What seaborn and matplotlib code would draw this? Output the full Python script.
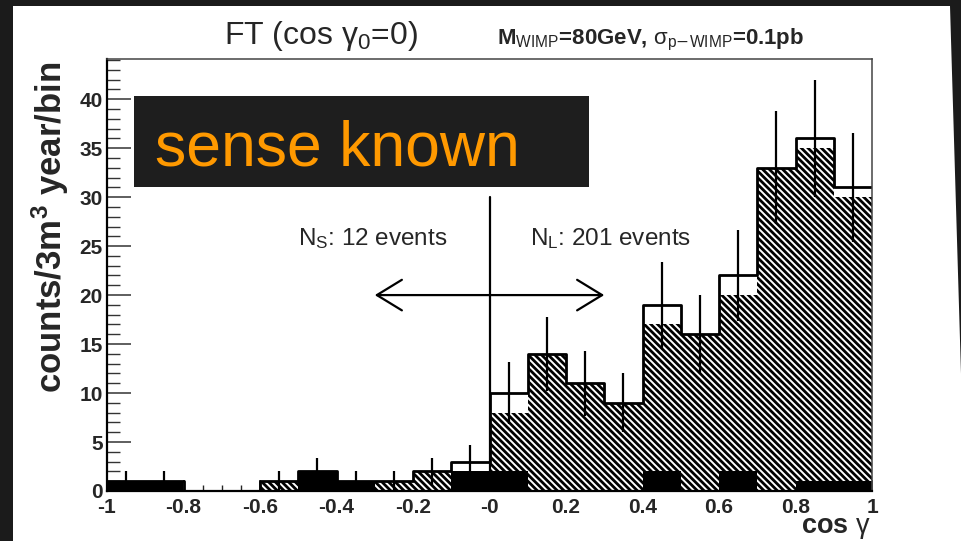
import numpy as np
import pandas as pd
import matplotlib
matplotlib.use("Agg")
import matplotlib.pyplot as plt
from matplotlib.patches import Rectangle, Polygon
from matplotlib.ticker import MultipleLocator, FixedLocator, FixedFormatter
import seaborn as sns

# ---- data: counts per 0.1 bin of cos(gamma), from -1 to 1 ----
bin_edges = [round(-1.0 + 0.1 * i, 2) for i in range(21)]
total_counts = [1, 1, 0, 0, 1, 2, 1, 1, 2, 3, 10, 14, 11, 9, 19, 16, 22, 33, 36, 31]
background_counts = [1, 1, 0, 0, 0, 2, 1, 0, 0, 2, 2, 0, 0, 0, 2, 0, 2, 0, 1, 1]
signal_counts = [0, 0, 0, 0, 1, 0, 0, 1, 2, 1, 8, 14, 11, 9, 17, 16, 20, 33, 35, 30]

x_tick_values = [-1.0, -0.8, -0.6, -0.4, -0.2, 0.0, 0.2, 0.4, 0.6, 0.8, 1.0]
x_tick_labels = ["-1", "-0.8", "-0.6", "-0.4", "-0.2", "-0", "0.2", "0.4", "0.6", "0.8", "1"]
y_tick_values = [0, 5, 10, 15, 20, 25, 30, 35, 40]

cut_value = 0.0          # cos(gamma_0)
cut_line_top = 30
arrow_level = 20
arrow_half_span = 0.3

edges = np.array(bin_edges)
bin_centers = (edges[:-1] + edges[1:]) / 2
df = pd.DataFrame({
    "cos_gamma": bin_centers,
    "total": total_counts,
    "signal": signal_counts,
    "background": background_counts,
})
n_short = int(df.loc[df.cos_gamma < cut_value, "total"].sum())
n_long = int(df.loc[df.cos_gamma > cut_value, "total"].sum())

# ---- style ----
sns.set_style("white")
plt.rcParams["font.family"] = ["Liberation Sans", "DejaVu Sans"]
plt.rcParams["mathtext.fontset"] = "custom"
plt.rcParams["mathtext.rm"] = "Liberation Sans"
plt.rcParams["mathtext.it"] = "Liberation Sans:italic"
plt.rcParams["mathtext.bf"] = "Liberation Sans:bold"
plt.rcParams["hatch.linewidth"] = 2.0
plt.rcParams["hatch.color"] = "black"

W, H = 961, 541
fig = plt.figure(figsize=(W / 100, H / 100), dpi=100)
fig.patch.set_facecolor("#1b1b1b")

def fx(px):
    return px / W

def fy(py):
    return 1 - py / H

# white page behind the plot
page = [(13, 6), (950, 6), (966, 541), (13, 541)]
fig.add_artist(Polygon([(fx(a), fy(b)) for a, b in page], closed=True,
                       transform=fig.transFigure, facecolor="white",
                       edgecolor="none", zorder=-1))

ax = fig.add_axes([fx(107), fy(491), fx(872) - fx(107), fy(59) - fy(491)])
ax.set_facecolor("white")

# hatched signal histogram
n_before = len(ax.patches)
sns.histplot(data=df, x="cos_gamma", weights="signal", bins=bin_edges,
             element="bars", fill=True, facecolor="white", edgecolor="black",
             linewidth=0, alpha=1, ax=ax)
for p in ax.patches[n_before:]:
    p.set_hatch("\\" * 5)
    p.set_edgecolor("black")
    p.set_linewidth(0)

# solid background histogram
sns.histplot(data=df, x="cos_gamma", weights="background", bins=bin_edges,
             element="bars", fill=True, facecolor="black", edgecolor="black",
             linewidth=0, alpha=1, ax=ax)

# total histogram outline with Poisson errors
sns.histplot(data=df, x="cos_gamma", weights="total", bins=bin_edges,
             element="step", fill=False, color="black", linewidth=2.0, ax=ax)
ax.errorbar(df["cos_gamma"], df["total"], yerr=np.sqrt(df["total"]),
            fmt="none", ecolor="black", elinewidth=1.6, capsize=0, zorder=3)

# cut line and region arrow
ax.plot([cut_value, cut_value], [0, cut_line_top], color="black", lw=1.6, zorder=3)
ax.annotate("", xy=(cut_value - arrow_half_span, arrow_level),
            xytext=(cut_value + arrow_half_span, arrow_level),
            arrowprops=dict(arrowstyle="<->,head_length=1.8,head_width=1.1",
                            lw=1.6, color="black", shrinkA=0, shrinkB=0))
ax.text(-0.5, 25.8, r"N$_{\rm S}$: %d events" % n_short, fontsize=17.5,
        ha="left", va="center")
ax.text(0.105, 25.8, r"N$_{\rm L}$: %d events" % n_long, fontsize=17.5,
        ha="left", va="center")

# axes
ax.set_xlim(-1, 1)
ax.set_ylim(0, 44.1)
ax.set_xlabel("")
ax.set_ylabel("")
ax.set_axisbelow(True)
ax.xaxis.set_major_locator(FixedLocator(x_tick_values))
ax.xaxis.set_major_formatter(FixedFormatter(x_tick_labels))
ax.xaxis.set_minor_locator(MultipleLocator(0.05))
ax.yaxis.set_major_locator(FixedLocator(y_tick_values))
ax.yaxis.set_minor_locator(MultipleLocator(1))
ax.tick_params(axis="y", which="major", direction="in", length=17, width=1.1,
               color="#333333", left=True, right=False, labelsize=15, pad=3)
ax.tick_params(axis="y", which="minor", direction="in", length=9.5, width=1.0,
               color="#333333", left=True, right=False)
ax.tick_params(axis="x", which="major", direction="in", length=8, width=1.1,
               bottom=True, top=False, labelsize=15, pad=5)
ax.tick_params(axis="x", which="minor", direction="in", length=4.5, width=1.0,
               bottom=True, top=False)
for lab in ax.get_xticklabels() + ax.get_yticklabels():
    lab.set_fontweight("bold")
for side in ["left", "bottom"]:
    ax.spines[side].set_color("black")
    ax.spines[side].set_linewidth(1.6)
for side in ["top", "right"]:
    ax.spines[side].set_color("#444444")
    ax.spines[side].set_linewidth(1.1)

# titles and axis titles
fig.text(fx(321), fy(36), r"FT (cos $\mathrm{\gamma}_{\rm 0}$=0)", fontsize=23,
         ha="center", va="center")
fig.text(fx(497), fy(40),
         r"M$_{\rm WIMP}$=80GeV, $\mathrm{\sigma}_{\rm p\mathsf{-}WIMP}$=0.1pb",
         fontsize=16, ha="left", va="center", fontweight="bold")
fig.text(fx(50), fy(227), r"counts/3m$^{\bf 3}$ year/bin", rotation=90,
         fontsize=25, fontweight="bold", ha="center", va="center")
fig.text(fx(871), fy(533), r"cos $\mathrm{\gamma}$", fontsize=19.5,
         fontweight="bold", ha="right", va="baseline")

# caption box
fig.add_artist(Rectangle((fx(134), fy(187)), fx(589) - fx(134), fy(96) - fy(187),
                         transform=fig.transFigure, facecolor="#1e1e1e",
                         edgecolor="none", zorder=4))
fig.text(fx(155), fy(165), "sense known", fontsize=45, color="#ff9900",
         ha="left", va="baseline", zorder=5)

fig.savefig("out.png", dpi=100, facecolor=fig.get_facecolor())
